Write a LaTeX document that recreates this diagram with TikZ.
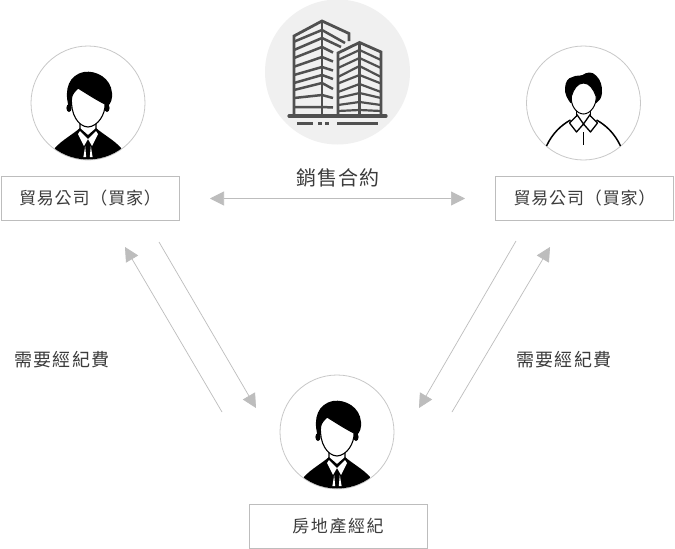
\documentclass[tikz,border=0pt]{standalone}
\usepackage{fontspec}
\setmainfont{Noto Sans CJK TC}
\usetikzlibrary{arrows.meta}
\definecolor{linegray}{HTML}{BDBDBD}
\definecolor{ringgray}{HTML}{C8C8C8}
\definecolor{bldg}{HTML}{505050}
\definecolor{txt}{HTML}{3C3C3C}
\tikzset{
  x=1pt,y=-1pt,
  labelbox/.style={draw=linegray,line width=1pt,minimum width=178pt,minimum height=44pt,inner sep=0pt,font=\fontsize{17}{19}\selectfont\addfontfeature{LetterSpace=5},text=txt},
  plainlabel/.style={inner sep=0pt,text=txt},
  flow/.style={draw=linegray,line width=0.7pt,-{Triangle[length=14pt,width=14pt,color=linegray]}},
  both/.style={draw=linegray,line width=0.7pt,{Triangle[length=14pt,width=14pt,color=linegray]}-{Triangle[length=14pt,width=14pt,color=linegray]}},
  avatar/.style={circle,draw=ringgray,line width=0.8pt,fill=white,minimum size=114pt,inner sep=0pt},
  floor/.style={draw=bldg,line width=2.8pt},
  suitman/.pic={
    \begin{scope}
      \clip (0,0) circle (56.5);
      \fill[black] (-36,60) -- (-33,45) .. controls (-26,37) and (-16,32) .. (-8,25) -- (8,25) .. controls (16,32) and (26,37) .. (33,45) -- (36,60) -- cycle;
    \end{scope}
    % ears
    \fill[black] (-19,5) ellipse (2.6 and 4);
    \fill[black] (19,5) ellipse (2.6 and 4);
    % hair
    \fill[black] (-19.5,3) .. controls (-24,-14) and (-19,-28) .. (-4,-31)
      .. controls (8,-33) and (23,-25) .. (24,-10)
      .. controls (24.5,-4) and (23,0) .. (20,3) -- (0,3) -- cycle;
    % neck and face
    \fill[white,draw=black,line width=1.4pt] (-8,14) -- (-8,26) -- (0,33) -- (8,26) -- (8,14) -- cycle;
    \fill[white,draw=black,line width=1.1pt] (-16.5,-5) .. controls (-16,-9) and (-13,-12) .. (-10,-15)
      .. controls (-2,-10) and (9,-3) .. (17,1)
      .. controls (17.5,11) and (10,23.5) .. (0,24)
      .. controls (-10,23.5) and (-17.5,11) .. (-16.5,-5) -- cycle;
    % collar and tie
    \fill[white] (-8,28) -- (0,36) -- (-4,43) -- (-10,31) -- cycle;
    \fill[white] (8,28) -- (0,36) -- (4,43) -- (10,31) -- cycle;
    \begin{scope}
      \clip (0,0) circle (56.5);
      \fill[white] (-2.8,43) -- (-1.8,54) -- (-4.6,54) -- cycle;
      \fill[white] (2.8,43) -- (1.8,54) -- (4.6,54) -- cycle;
    \end{scope}
  },
  shirtman/.pic={
    % body outline
    \draw[black,line width=1.5pt] (-37,43) .. controls (-31,30) and (-22,22) .. (-13,17);
    \draw[black,line width=1.5pt] (37,43) .. controls (31,30) and (22,22) .. (13,17);
    % neck
    \draw[black,line width=1.3pt] (-7,5) -- (-7,14);
    \draw[black,line width=1.3pt] (7,5) -- (7,14);
    \draw[black,line width=1.3pt] (-7,11) -- (0,21) -- (7,11);
    % collar
    \draw[black,line width=1.3pt,line join=round] (-7,13) -- (-14,20) -- (-7,29) -- (0,21) -- (7,29) -- (14,20) -- (7,13);
    \draw[black,line width=1.3pt] (0,29) -- (0,42);
    % hair
    \fill[black] (-13,0) .. controls (-16,-4) and (-19,-9) .. (-18.5,-15)
      .. controls (-18,-21) and (-16,-25) .. (-11,-26)
      .. controls (-7,-28) and (-3,-27) .. (-1,-28)
      .. controls (3,-31) and (9,-32) .. (13,-27)
      .. controls (17,-23) and (19,-17) .. (18.5,-10)
      .. controls (18,-5) and (16,-2) .. (13,0) -- (0,-2) -- cycle;
    % face
    \fill[white,draw=black,line width=1pt] (-12,-7) .. controls (-10,-14) and (-6,-20) .. (0,-20)
      .. controls (6,-20) and (10,-14) .. (12.5,-7)
      .. controls (13.5,2) and (7,11) .. (0,11)
      .. controls (-7,11) and (-13.5,2) .. (-12,-7) -- cycle;
  }
}
\begin{document}
\begin{tikzpicture}
\useasboundingbox (0,0) rectangle (675,549);
\fill[white] (0,0) rectangle (675,549);

% building
\fill[black!6] (337.5,72) circle (72.5);
\begin{scope}[line cap=butt]
  % left tower floors
  \foreach \wy/\cy/\ex/\ey in {41.7/30/345/43, 50/38/341/47, 58/47/333/52.5, 66.7/57/333/61.5, 75/67/333/70.5, 83/75/333/79, 90/83/333/89, 98/95/333/98, 107/107/333/107.5}{
    \draw[floor,line width=2.5pt] (294,\wy) -- (322,\cy) -- (\ex,\ey);
  }
  \draw[floor,line join=miter] (294,115) -- (294,36) -- (322,21) -- (349,33.5) -- (349,41);
  \draw[floor] (322,21) -- (322,115);
  % right tower floors
  \fill[black!6] (339,54) -- (359.5,43) -- (381,53) -- (381,115) -- (339,115) -- cycle;
  \foreach \wy/\cy in {60/50, 68/58, 77/66, 83.5/75, 92/84, 98/93, 105/102, 111/110}{
    \draw[floor,line width=2.2pt] (338,\wy) -- (359.5,\cy) -- (381,\wy);
  }
  \draw[floor,line join=miter] (338,115) -- (338,53) -- (359.5,42.5) -- (381,52) -- (381,115);
  \draw[floor] (359.5,42.5) -- (359.5,115);
  \draw[floor,line width=3.2pt,line cap=round] (289,116) -- (386,116);
  \draw[floor,line width=2.8pt] (297,123.5) -- (313,123.5);
  \draw[floor,line width=2.8pt] (318,123.5) -- (322,123.5);
  \draw[floor,line width=2.8pt] (325,123.5) -- (329,123.5);
  \draw[floor,line width=2.8pt] (337,123.5) -- (378,123.5);
\end{scope}

% people
\node[avatar] (buyerL) at (88,103) {};
\pic at (88,103) {suitman};
\node[avatar] (buyerR) at (583.5,103) {};
\pic at (583.5,103) {shirtman};
\node[avatar] (agentA) at (337,432) {};
\pic at (337,432) {suitman};

% boxes
\node[labelbox] (boxL) at (90,198) {貿易公司（買家）};
\node[labelbox] (boxR) at (584.5,198) {貿易公司（買家）};
\node[labelbox,font=\fontsize{17}{19}\selectfont\addfontfeature{LetterSpace=9}] (boxA) at (338,526) {房地產經紀};

% labels
\node[plainlabel,font=\fontsize{20}{22}\selectfont\addfontfeature{LetterSpace=6}] (contract) at (338,178) {銷售合約};
\node[plainlabel,font=\fontsize{18}{20}\selectfont\addfontfeature{LetterSpace=6}] (feeL) at (62,360) {需要經紀費};
\node[plainlabel,font=\fontsize{18}{20}\selectfont\addfontfeature{LetterSpace=6}] (feeR) at (564,360) {需要經紀費};

% connector ends
\coordinate (a1) at (210,198.5);
\coordinate (a2) at (465,198.5);
\coordinate (b1) at (159,242);
\coordinate (b2) at (256,408);
\coordinate (c1) at (222,412);
\coordinate (c2) at (125,247);
\coordinate (d1) at (516,241);
\coordinate (d2) at (419,408);
\coordinate (e1) at (452,412);
\coordinate (e2) at (550,247);

\draw[both] (a1) -- (a2);
\draw[flow] (b1) -- (b2);
\draw[flow] (c1) -- (c2);
\draw[flow] (d1) -- (d2);
\draw[flow] (e1) -- (e2);
\end{tikzpicture}
\end{document}
